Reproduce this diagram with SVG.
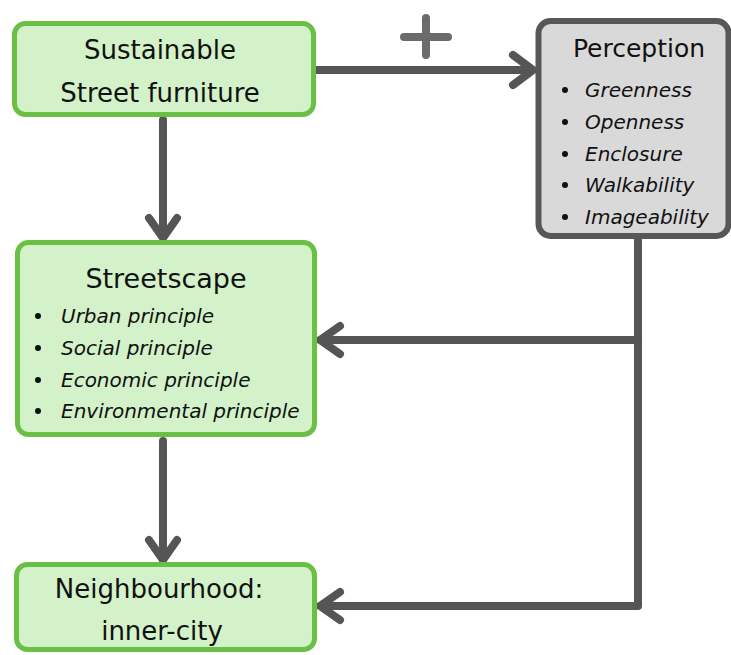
<svg xmlns="http://www.w3.org/2000/svg" width="731" height="655" viewBox="0 0 731 655">
<style>
.g{fill:#d3f2c9;stroke:#6abf45;stroke-width:5}
.p{fill:#d9d9d9;stroke:#575757;stroke-width:6}
.t{font-family:"DejaVu Sans",sans-serif;fill:#111;text-anchor:middle}
.i{font-family:"DejaVu Sans",sans-serif;font-style:italic;fill:#111;font-size:20px}
.c{fill:none;stroke:#555;stroke-width:8;stroke-linecap:round;stroke-linejoin:round}
.b{fill:#111}
</style>
<rect width="731" height="655" fill="#fff"/>
<g id="connectors">
<path class="c" d="M316 70H533M513 55L533 70L513 85"/>
<path class="c" d="M163 120V238M149 218L163 238L177 218"/>
<path class="c" d="M163 441V560M149 540L163 560L177 540"/>
<path class="c" d="M638 240V606H320M340 592L320 606L340 620"/>
<path class="c" d="M638 340H320M340 326L320 340L340 354"/>
<path d="M404 37H448M426 18V55" fill="none" stroke="#6b6b6b" stroke-width="8" stroke-linecap="round"/>
</g>
<g id="furniture">
<rect class="g" x="14.5" y="23.5" width="299" height="91" rx="11"/>
<text class="t" x="160" y="59" font-size="26">Sustainable</text>
<text class="t" x="160" y="102" font-size="26">Street furniture</text>
</g>
<g id="perception">
<rect class="p" x="538.5" y="21" width="190" height="215" rx="12"/>
<text class="t" x="639" y="57" font-size="25">Perception</text>
<circle class="b" cx="565" cy="90" r="3"/><text class="i" x="585" y="97">Greenness</text>
<circle class="b" cx="565" cy="122" r="3"/><text class="i" x="585" y="129">Openness</text>
<circle class="b" cx="565" cy="154" r="3"/><text class="i" x="585" y="161">Enclosure</text>
<circle class="b" cx="565" cy="185" r="3"/><text class="i" x="585" y="192">Walkability</text>
<circle class="b" cx="565" cy="217" r="3"/><text class="i" x="585" y="224">Imageability</text>
</g>
<g id="streetscape">
<rect class="g" x="17.5" y="242.5" width="297" height="192" rx="11"/>
<text class="t" x="166" y="288" font-size="27">Streetscape</text>
<circle class="b" cx="38" cy="316" r="3"/><text class="i" x="61" y="323">Urban principle</text>
<circle class="b" cx="38" cy="348" r="3"/><text class="i" x="61" y="355">Social principle</text>
<circle class="b" cx="38" cy="380" r="3"/><text class="i" x="61" y="387">Economic principle</text>
<circle class="b" cx="38" cy="411" r="3"/><text class="i" x="61" y="418">Environmental principle</text>
</g>
<g id="neighbourhood">
<rect class="g" x="16.5" y="564.5" width="298" height="85" rx="11"/>
<text class="t" x="159" y="598" font-size="26">Neighbourhood:</text>
<text class="t" x="162" y="640" font-size="26">inner-city</text>
</g>
</svg>
